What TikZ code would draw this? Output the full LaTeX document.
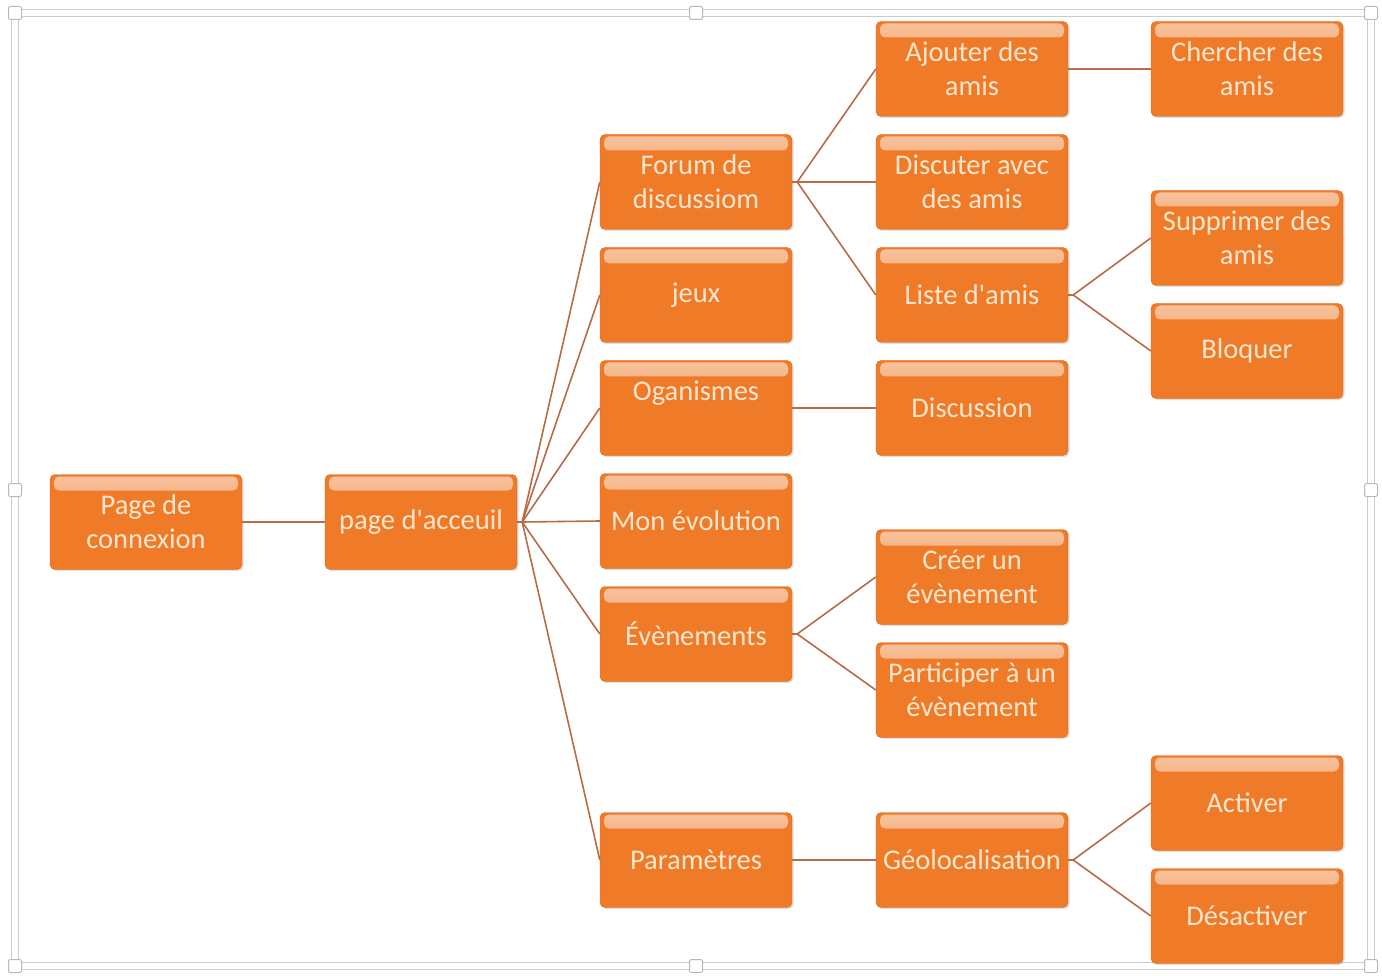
\documentclass[tikz,border=0pt]{standalone}
\usepackage{fontspec}
\setmainfont{Carlito}
\usepackage{tikz}
\usetikzlibrary{calc,positioning,shadows}
\definecolor{boxfill}{HTML}{EF7A28}
\definecolor{boxedge}{HTML}{DD6A20}
\definecolor{boxtext}{HTML}{FDE6CF}
\definecolor{linkcol}{HTML}{B86B45}
\tikzstyle{box}    = [rectangle, rounded corners=5pt, draw=boxedge, fill=boxfill,
                      text=boxtext, align=center, inner sep=0pt,
                      minimum width=192pt, minimum height=95pt,
                      font=\fontsize{28.5}{34}\selectfont,
                      drop shadow={opacity=0.25, shadow xshift=1.5pt, shadow yshift=-1.5pt},
                      path picture={\shade[top color=boxfill!45!white, bottom color=boxfill]
                        ([xshift=4pt,yshift=-2pt]path picture bounding box.north west) rectangle
                        ([xshift=-4pt,yshift=-16pt]path picture bounding box.north east);}]
\tikzstyle{link}   = [draw=linkcol, line width=1.6pt]
\tikzstyle{frame}  = [draw=gray!40, double, double distance=6pt, line width=1.2pt]
\tikzstyle{handle} = [rectangle, rounded corners=2pt, draw=gray!55, fill=white,
                      minimum size=13pt, inner sep=0pt, line width=1pt]
\begin{document}
\begin{tikzpicture}[x=1pt,y=-1pt]
        \useasboundingbox (0,0) rectangle (1382,976);
        \draw[frame] (15,13) rectangle (1371,966);
        \foreach \p in {(15,13),(696,13),(1371,13),(15,490),(1371,490),(15,966),(696,966),(1371,966)}
            \node[handle] at \p {};

        % level 0 and 1
        \node[box] (conn) at (146,522) {Page de\\connexion};
        \node[box] (accueil) at (421,522) {page d\textquotesingle acceuil};

        % level 2
        \node[box] (forum) at (696,182) {Forum de\\discussiom};
        \node[box] (jeux) at (696,295) {jeux};
        \node[box] (orga) at (696,408) {Oganismes\\\mbox{}};
        \node[box] (evol) at (696,521) {Mon évolution};
        \node[box] (even) at (696,634) {Évènements};
        \node[box] (param) at (696,860) {Paramètres};

        % level 3
        \node[box] (ajout) at (972,69) {Ajouter des\\amis};
        \node[box] (discu) at (972,182) {Discuter avec\\des amis};
        \node[box] (liste) at (972,295) {Liste d\textquotesingle amis};
        \node[box] (discn) at (972,408) {Discussion};
        \node[box] (creer) at (972,577) {Créer un\\évènement};
        \node[box] (partic) at (972,690) {Participer à un\\évènement};
        \node[box] (geo) at (972,860) {Géolocalisation};

        % level 4
        \node[box] (cherch) at (1247,69) {Chercher des\\amis};
        \node[box] (suppr) at (1247,238) {Supprimer des\\amis};
        \node[box] (bloq) at (1247,351) {Bloquer};
        \node[box] (activ) at (1247,803) {Activer};
        \node[box] (desact) at (1247,916) {Désactiver};

        % connectors
        \draw[link] (conn.east) -- (accueil.west);
        \draw[link] (accueil.east) -- ++(5,0) coordinate (fa);
        \foreach \c in {forum,jeux,orga,evol,even,param}
            \draw[link] (fa) -- (\c.west);
        \draw[link] (forum.east) -- ++(5,0) coordinate (ff);
        \foreach \c in {ajout,discu,liste}
            \draw[link] (ff) -- (\c.west);
        \draw[link] (liste.east) -- ++(5,0) coordinate (fl);
        \foreach \c in {suppr,bloq}
            \draw[link] (fl) -- (\c.west);
        \draw[link] (even.east) -- ++(5,0) coordinate (fe);
        \foreach \c in {creer,partic}
            \draw[link] (fe) -- (\c.west);
        \draw[link] (geo.east) -- ++(5,0) coordinate (fg);
        \foreach \c in {activ,desact}
            \draw[link] (fg) -- (\c.west);
        \draw[link] (ajout.east) -- (cherch.west);
        \draw[link] (orga.east) -- (discn.west);
        \draw[link] (param.east) -- (geo.west);
    \end{tikzpicture}
\end{document}
